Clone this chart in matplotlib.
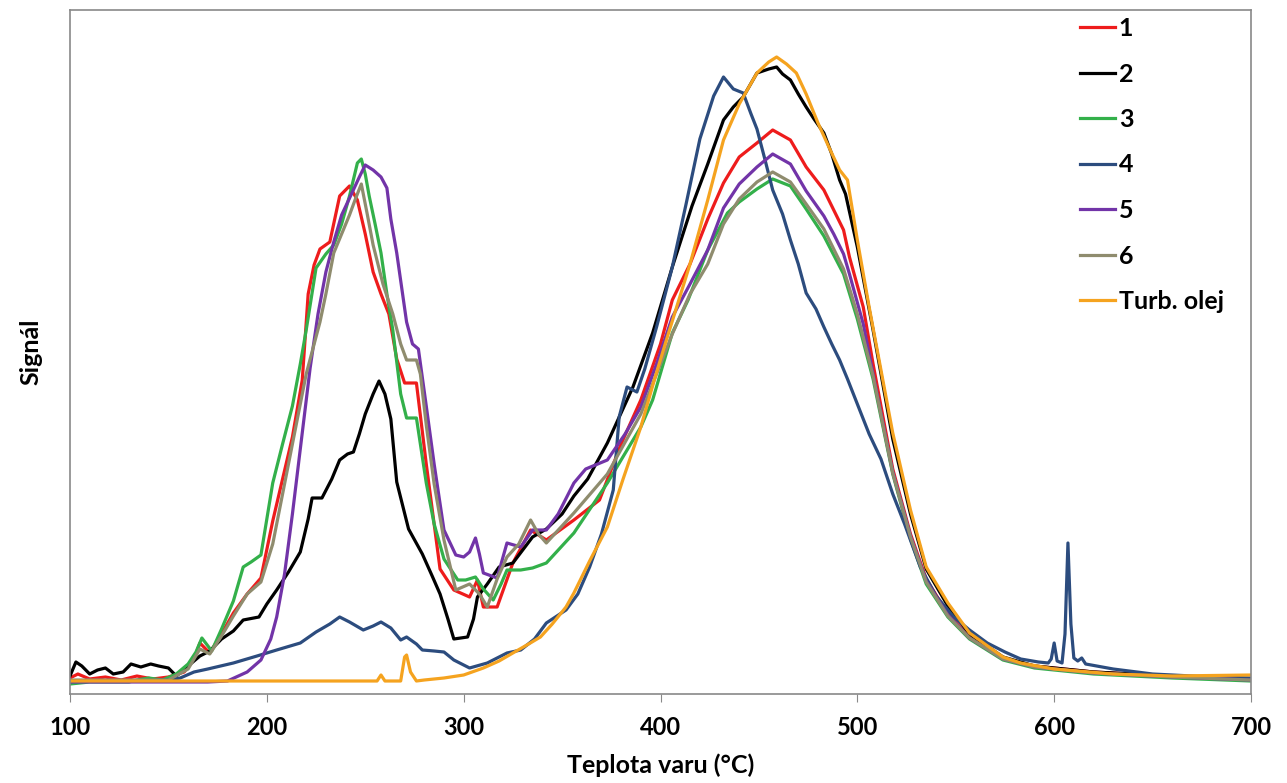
import matplotlib.pyplot as plt

# data (signal in arbitrary units)
x1 = [100, 104, 110, 118, 126, 134, 142, 150, 158, 163, 166, 171, 177, 183, 190, 197, 203, 208, 213, 218, 221, 224, 227, 232,
      237, 242, 246, 250, 254, 258, 262, 266, 270, 276, 281, 288, 295, 303, 307, 310, 317, 325, 334, 342, 356, 369, 380, 390,
      400, 406, 415, 424, 432, 440, 449, 457, 466, 474, 483, 489, 493, 496, 503, 508, 518, 527, 535, 546, 557, 574, 590, 620,
      660, 700]
y1 = [16, 20, 15, 17, 14, 18, 15, 17, 22, 35, 51, 41, 60, 81, 100, 116, 173, 215, 257, 314, 400, 429, 445, 452,
      498, 508, 494, 460, 422, 400, 380, 335, 311, 311, 230, 125, 104, 97, 114, 87, 87, 131, 164, 154, 174, 194, 250, 294,
      350, 394, 430, 475, 511, 537, 551, 564, 554, 527, 504, 480, 464, 437, 387, 330, 225, 160, 115, 80, 57, 36, 28, 22,
      18, 15]

x2 = [100, 103, 106, 110, 114, 118, 122, 127, 131, 136, 141, 145, 150, 154, 160, 166, 171, 177, 183, 188, 196, 200, 205, 211,
      217, 221, 223, 228, 233, 237, 241, 244, 247, 250, 254, 257, 260, 263, 266, 272, 279, 284, 288, 292, 295, 302, 305, 307,
      312, 318, 325, 335, 342, 350, 356, 363, 373, 386, 396, 406, 416, 424, 432, 437, 442, 449, 455, 459, 462, 466, 470, 474,
      478, 483, 487, 491, 494, 500, 508, 518, 527, 535, 546, 557, 574, 590, 620, 660, 700]
y2 = [18, 32, 28, 20, 24, 26, 20, 22, 30, 27, 30, 28, 26, 18, 28, 38, 43, 55, 63, 74, 77, 90, 104, 122,
      142, 175, 196, 196, 215, 234, 240, 242, 260, 280, 300, 313, 300, 275, 212, 165, 140, 118, 100, 75, 55, 57, 75, 97,
      110, 127, 131, 157, 165, 180, 198, 215, 251, 307, 361, 427, 488, 530, 574, 587, 597, 621, 625, 627, 620, 614, 600, 587,
      575, 561, 540, 514, 500, 447, 364, 255, 180, 125, 88, 60, 37, 28, 22, 18, 15]

x3 = [100, 110, 120, 130, 134, 140, 147, 154, 160, 164, 167, 172, 177, 183, 188, 192, 197, 203, 208, 213, 217, 220, 225, 230,
      234, 238, 242, 246, 248, 250, 252, 255, 258, 261, 264, 268, 271, 276, 281, 285, 290, 297, 301, 306, 310, 315, 319, 322,
      329, 335, 342, 356, 373, 390, 396, 406, 414, 424, 434, 440, 449, 457, 466, 474, 483, 493, 500, 508, 518, 527, 535, 546,
      557, 574, 590, 620, 660, 700]
y3 = [10, 12, 12, 12, 14, 16, 14, 20, 30, 42, 56, 43, 65, 93, 127, 132, 139, 211, 250, 288, 330, 364, 426, 440,
      449, 470, 498, 531, 535, 520, 498, 470, 441, 400, 364, 300, 276, 276, 211, 170, 135, 114, 114, 117, 105, 94, 110, 124,
      124, 126, 131, 161, 211, 267, 294, 361, 394, 444, 481, 492, 505, 515, 508, 485, 458, 420, 375, 315, 220, 155, 110, 77,
      55, 34, 26, 20, 16, 13]

x4 = [100, 130, 150, 156, 163, 170, 183, 195, 205, 217, 225, 232, 237, 242, 249, 254, 258, 263, 268, 271, 276, 279, 285, 290,
      295, 303, 312, 322, 329, 336, 342, 352, 358, 364, 370, 376, 379, 383, 388, 392, 398, 406, 413, 420, 427, 432, 437, 442,
      446, 449, 453, 457, 462, 466, 470, 474, 479, 483, 487, 491, 495, 500, 506, 512, 518, 524, 532, 540, 549, 557, 566, 575,
      583, 592, 597, 598.5, 600, 601.5, 604, 605.5, 607, 608.5, 610, 612, 614, 616, 630, 650, 680, 700]
y4 = [13, 13, 14, 16, 22, 25, 31, 38, 44, 51, 62, 70, 77, 72, 64, 68, 72, 66, 54, 57, 50, 44, 43, 42,
      34, 26, 31, 41, 44, 55, 71, 84, 100, 127, 160, 204, 277, 307, 302, 325, 367, 427, 490, 555, 598, 617, 605, 601,
      580, 565, 535, 504, 480, 454, 430, 401, 385, 367, 350, 334, 315, 290, 260, 235, 200, 170, 127, 98, 77, 64, 51, 42,
      35, 32, 31, 35, 51, 33, 31, 60, 151, 70, 36, 33, 36, 30, 25, 20, 17, 16]

x5 = [100, 150, 170, 180, 190, 197, 202, 205, 209, 213, 217, 222, 226, 230, 234, 238, 243, 247, 250, 254, 258, 261, 263, 266,
      271, 274, 277, 281, 285, 290, 296, 300, 303, 306, 308, 310, 317, 322, 329, 335, 342, 348, 356, 362, 373, 382, 390, 398,
      406, 415, 424, 432, 440, 449, 457, 466, 474, 483, 488, 493, 496, 503, 508, 518, 527, 535, 546, 557, 574, 590, 620, 660,
      700]
y5 = [12, 12, 12, 13, 22, 34, 55, 77, 120, 180, 245, 326, 380, 422, 452, 479, 500, 517, 529, 524, 517, 506, 475, 441,
      372, 350, 345, 288, 230, 164, 139, 137, 142, 156, 140, 121, 116, 151, 147, 164, 164, 180, 211, 225, 234, 260, 287, 330,
      377, 410, 444, 486, 510, 527, 540, 530, 503, 478, 460, 440, 420, 370, 320, 222, 158, 113, 79, 56, 35, 27, 21, 17,
      14]

x6 = [100, 130, 150, 160, 166, 171, 177, 183, 190, 197, 203, 208, 213, 220, 227, 230, 234, 238, 242, 245, 248, 251, 254, 259,
      264, 268, 271, 276, 278, 281, 285, 290, 296, 303, 308, 312, 317, 322, 328, 334, 338, 342, 356, 373, 390, 400, 406, 415,
      424, 432, 440, 449, 457, 466, 474, 483, 488, 493, 500, 508, 518, 527, 535, 546, 557, 574, 590, 620, 660, 700]
y6 = [14, 14, 14, 25, 45, 40, 58, 78, 100, 112, 150, 200, 250, 320, 372, 400, 441, 460, 479, 495, 510, 480, 449, 410,
      380, 350, 334, 334, 320, 269, 210, 154, 104, 110, 100, 87, 115, 137, 150, 174, 160, 151, 181, 220, 280, 330, 360, 400,
      430, 470, 495, 512, 522, 512, 490, 465, 445, 425, 380, 318, 221, 157, 112, 78, 56, 35, 27, 21, 17, 14]

x_oil = [100, 150, 200, 250, 256, 258, 260, 268, 270, 271, 273, 276, 280, 290, 300, 310, 318, 325, 333, 339, 345, 352, 356, 364,
         373, 381, 390, 397, 403, 409, 415, 424, 432, 440, 449, 455, 459, 464, 469, 474, 480, 486, 491, 495, 500, 506, 512, 518,
         527, 535, 546, 557, 574, 583, 600, 630, 660, 700]
y_oil = [13, 13, 13, 13, 13, 19, 13, 13, 37, 39, 22, 13, 14, 16, 19, 26, 33, 41, 50, 57, 70, 87, 101, 133,
         167, 215, 267, 315, 354, 392, 430, 494, 554, 590, 621, 632, 637, 630, 621, 600, 571, 545, 524, 514, 454, 387, 324, 261,
         184, 127, 91, 61, 37, 31, 25, 20, 18, 19]

labels = ['1', '2', '3', '4', '5', '6', 'Turb. olej']
colors = ['#EE1C1C', '#000000', '#33B04A', '#2C4C7E', '#7234A8', '#8F8C6E', '#F5A31F']

plt.rcParams['font.family'] = ['Lato', 'DejaVu Sans']

fig = plt.figure(figsize=(12.87, 7.83), dpi=100)
ax = fig.add_axes([70 / 1287, 89 / 783, 1181 / 1287, 684 / 783])

series = [(x1, y1), (x2, y2), (x3, y3), (x4, y4), (x5, y5), (x6, y6), (x_oil, y_oil)]
for (xs, ys), lab, col in zip(series, labels, colors):
    ax.plot(xs, ys, color=col, linewidth=2.3, label=lab)

ax.set_xlim(100, 700)
ax.set_ylim(0, 684)
ax.set_xticks([100, 200, 300, 400, 500, 600, 700])
ax.set_yticks([])
ax.tick_params(axis='x', direction='out', length=6, color='#898989', labelsize=17, pad=10)
for lbl in ax.get_xticklabels():
    lbl.set_fontweight('bold')
for sp in ax.spines.values():
    sp.set_color('#898989')
    sp.set_linewidth(1.2)

ax.set_xlabel('Teplota varu (°C)', fontsize=18, fontweight='bold', labelpad=10)
ax.set_ylabel('Signál', fontsize=18, fontweight='bold', labelpad=20)

leg = ax.legend(loc='upper left', bbox_to_anchor=(1080 / 1287, 1 - 17 / 783),
                bbox_transform=fig.transFigure, frameon=False, prop={'weight': 'bold', 'size': 18},
                handlelength=1.4, handletextpad=0.15, labelspacing=0.9, borderpad=0, borderaxespad=0)

fig.savefig('out.png', dpi=100)
